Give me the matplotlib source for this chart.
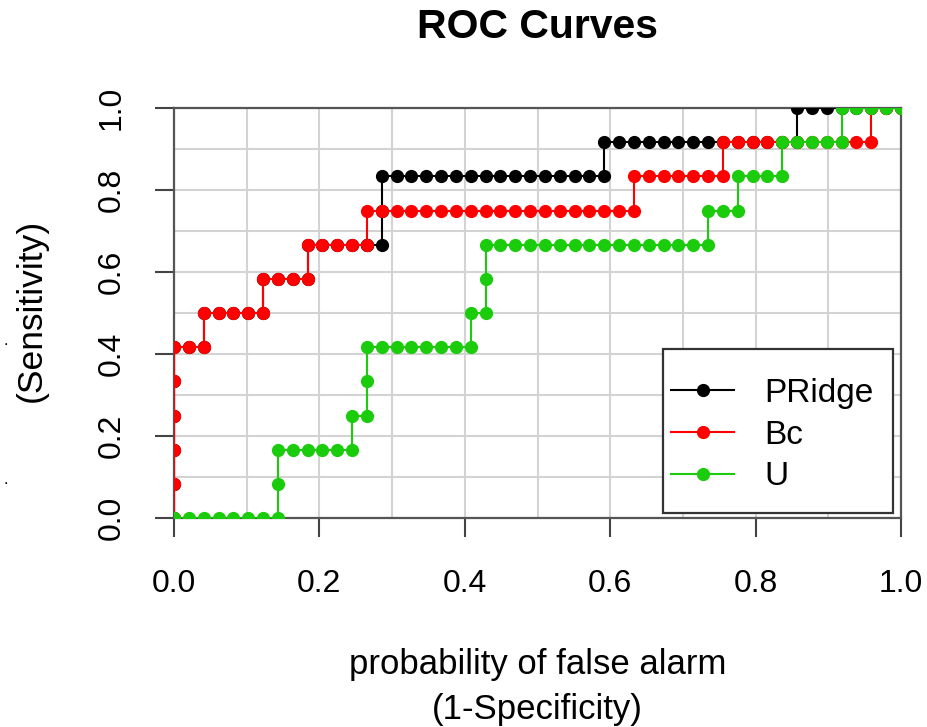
import matplotlib
matplotlib.use("Agg")
import matplotlib.pyplot as plt
from matplotlib.patches import Rectangle
import numpy as np

plt.rcParams['font.family'] = ['Liberation Sans', 'DejaVu Sans']

# ---- data: counts of false positives (out of N_NEG) and true positives (out of N_POS)
N_NEG = 49
N_POS = 12

pridge_fp = [0, 0, 0, 0, 0, 0, 1, 2, 2, 3, 4, 5, 6, 6, 7, 8, 9, 9, 10, 11, 12, 13,
             13, 14, 14, 14,
             15, 16, 17, 18, 19, 20, 21, 22, 23, 24, 25, 26, 27, 28, 29,
             29, 30, 31, 32, 33, 34, 35, 36, 37, 38, 39, 40, 41, 42,
             42, 43, 44, 45, 46, 47, 48, 49]
pridge_tp = [0, 1, 2, 3, 4, 5, 5, 5, 6, 6, 6, 6, 6, 7, 7, 7, 7, 8, 8, 8, 8, 8,
             8, 8, 9, 10,
             10, 10, 10, 10, 10, 10, 10, 10, 10, 10, 10, 10, 10, 10, 10,
             11, 11, 11, 11, 11, 11, 11, 11, 11, 11, 11, 11, 11, 11,
             12, 12, 12, 12, 12, 12, 12, 12]

bc_fp = [0, 0, 0, 0, 0, 0, 1, 2, 2, 3, 4, 5, 6, 6, 7, 8, 9, 9, 10, 11, 12, 13,
         13, 14, 15, 16, 17, 18, 19, 20, 21, 22, 23, 24, 25, 26, 27, 28, 29, 30, 31,
         31, 32, 33, 34, 35, 36, 37,
         37, 38, 39, 40, 41, 42, 43, 44, 45, 46, 47,
         47, 48, 49]
bc_tp = [0, 1, 2, 3, 4, 5, 5, 5, 6, 6, 6, 6, 6, 7, 7, 7, 7, 8, 8, 8, 8, 8,
         9, 9, 9, 9, 9, 9, 9, 9, 9, 9, 9, 9, 9, 9, 9, 9, 9, 9, 9,
         10, 10, 10, 10, 10, 10, 10,
         11, 11, 11, 11, 11, 11, 11, 11, 11, 11, 11,
         12, 12, 12]

u_fp = [0, 1, 2, 3, 4, 5, 6, 7, 7, 7, 8, 9, 10, 11, 12, 12, 13, 13, 13,
        14, 15, 16, 17, 18, 19, 20, 20, 21, 21, 21,
        22, 23, 24, 25, 26, 27, 28, 29, 30, 31, 32, 33, 34, 35, 36,
        36, 37, 38, 38, 39, 40, 41, 41, 42, 43, 44, 45, 45, 46, 47, 48, 49]
u_tp = [0, 0, 0, 0, 0, 0, 0, 0, 1, 2, 2, 2, 2, 2, 2, 3, 3, 4, 5,
        5, 5, 5, 5, 5, 5, 5, 6, 6, 7, 8,
        8, 8, 8, 8, 8, 8, 8, 8, 8, 8, 8, 8, 8, 8, 8,
        9, 9, 9, 10, 10, 10, 10, 11, 11, 11, 11, 11, 12, 12, 12, 12, 12]

series_names = ["PRidge", "Bc", "U"]
series_fp = [pridge_fp, bc_fp, u_fp]
series_tp = [pridge_tp, bc_tp, u_tp]
series_colors = ["#000000", "#FF0000", "#1ACC0C"]

title = "ROC Curves"
xlabel = "probability of false alarm\n(1-Specificity)"
ylabel = "(Sensitivity)"
ticks = [0.0, 0.2, 0.4, 0.6, 0.8, 1.0]
tick_labels = ["0.0", "0.2", "0.4", "0.6", "0.8", "1.0"]

W, H = 927, 727
fig = plt.figure(figsize=(W / 100, H / 100), dpi=100)
AX_L, AX_R, AX_T, AX_B = 174, 901, 108, 518
ax = fig.add_axes([AX_L / W, 1 - AX_B / H, (AX_R - AX_L) / W, (AX_B - AX_T) / H])

ax.set_xlim(0, 1)
ax.set_ylim(0, 1)

# grid
ax.set_xticks(np.arange(0.1, 1.0, 0.1), minor=True)
ax.set_yticks(np.arange(0.1, 1.0, 0.1), minor=True)
ax.grid(True, which='both', color='#D3D3D3', linewidth=1.5, zorder=0)
ax.tick_params(which='minor', length=0)
ax.set_axisbelow(True)

handles = []
for name, fp, tp, col in zip(series_names, series_fp, series_tp, series_colors):
    x = np.array(fp) / N_NEG
    y = np.array(tp) / N_POS
    h, = ax.plot(x, y, '-o', color=col, lw=1.5, ms=8.5, mec=col, mfc=col,
                 label=name, zorder=3)
    handles.append(h)

ax.set_xticks(ticks)
ax.set_xticklabels(tick_labels, fontsize=23)
ax.set_yticks(ticks)
ax.set_yticklabels(tick_labels, fontsize=23, rotation=90, va='center')
ax.tick_params(which='major', length=14, width=1.5, color='#444444')
ax.tick_params(axis='x', which='major', pad=23)
ax.tick_params(axis='y', which='major', pad=20)

for s in ax.spines.values():
    s.set_color('#555555')
    s.set_linewidth(1.6)

# legend frame (pixel box in the reference) and frameless legend entries
def px_to_ax(px, py):
    return (px - AX_L) / (AX_R - AX_L), (AX_B - py) / (AX_B - AX_T)

x0, y0 = px_to_ax(663, 513)
x1, y1 = px_to_ax(893, 349)
frame = Rectangle((x0, y0), x1 - x0, y1 - y0, transform=ax.transAxes,
                  facecolor='white', edgecolor='#333333', linewidth=1.6,
                  zorder=4, clip_on=False)
ax.add_patch(frame)

lx, ly = px_to_ax(671, 378)
leg = ax.legend(handles=handles, loc='upper left', bbox_to_anchor=(lx, ly),
                borderaxespad=0, borderpad=0, fontsize=24, frameon=False,
                handlelength=1.9, handletextpad=0.9, labelspacing=0.32)
leg.set_zorder(5)

fig.text(537.5 / W, 1 - 27 / H, title, ha='center', va='center',
         fontsize=29.5, fontweight='bold')
fig.text(537.5 / W, 1 - 687 / H, xlabel, ha='center', va='center',
         fontsize=25, linespacing=1.45)
fig.text(31 / W, 1 - 310 / H, ylabel, ha='center', va='center',
         fontsize=25.5, rotation=90)
fig.text(6 / W, 1 - 340 / H, ".", ha='center', va='center', fontsize=12)
fig.text(6 / W, 1 - 480 / H, ".", ha='center', va='center', fontsize=12)

fig.savefig("out.png", dpi=100)
